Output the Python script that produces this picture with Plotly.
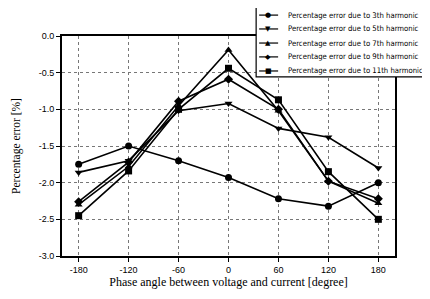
import plotly.graph_objects as go

phase = [-180, -120, -60, 0, 60, 120, 180]
h3 = [-1.75, -1.50, -1.70, -1.93, -2.22, -2.32, -2.00]
h5 = [-1.86, -1.70, -1.02, -0.92, -1.26, -1.38, -1.80]
h7 = [-2.30, -1.78, -0.95, -0.19, -1.02, -1.98, -2.28]
h9 = [-2.26, -1.72, -0.89, -0.59, -1.00, -1.98, -2.22]
h11 = [-2.45, -1.84, -1.00, -0.44, -0.87, -1.85, -2.50]

names = ["Percentage error due to 3th harmonic",
         "Percentage error due to 5th harmonic",
         "Percentage error due to 7th harmonic",
         "Percentage error due to 9th harmonic",
         "Percentage error due to 11th harmonic"]
symbols = ["circle", "triangle-down", "triangle-up", "diamond", "square"]
glyphs = ["●", "▼", "▲", "◆", "■"]
series = [h3, h5, h7, h9, h11]

x_ticks = [-180, -120, -60, 0, 60, 120, 180]
y_ticks = [0.0, -0.5, -1.0, -1.5, -2.0, -2.5, -3.0]

fig = go.Figure()
for nm, sym, ys in zip(names, symbols, series):
    fig.add_trace(go.Scatter(
        x=phase, y=ys, name=nm, mode="lines+markers",
        line=dict(color="black", width=1.6),
        marker=dict(symbol=sym, size=7, color="black"),
        showlegend=False,
    ))

# ---- hand-drawn legend (paper coordinates) ----
box_l, box_r, box_t, box_b = 0.583, 1.097, 1.155, 0.814
row_y = [1.095, 1.032, 0.968, 0.905, 0.841]
line_x0, line_x1, mark_x, text_x = 0.592, 0.649, 0.619, 0.672

fig.add_shape(type="rect", xref="paper", yref="paper",
              x0=box_l, x1=box_r, y0=box_b, y1=box_t,
              line=dict(color="black", width=1.2), fillcolor="white",
              layer="above")
for nm, g, yy in zip(names, glyphs, row_y):
    fig.add_shape(type="line", xref="paper", yref="paper",
                  x0=line_x0, x1=line_x1, y0=yy, y1=yy,
                  line=dict(color="black", width=1.2), layer="above")
    fig.add_annotation(x=mark_x, y=yy, xref="paper", yref="paper",
                       text=g, showarrow=False, xanchor="center",
                       yanchor="middle",
                       font=dict(family="DejaVu Sans", size=7,
                                 color="black"))
    fig.add_annotation(x=text_x, y=yy, xref="paper", yref="paper",
                       text=nm, showarrow=False, xanchor="left",
                       yanchor="middle",
                       font=dict(family="DejaVu Sans Condensed", size=7.7,
                                 color="black"))

fig.update_layout(
    width=430, height=299,
    margin=dict(l=54, r=43, t=28, b=51),
    paper_bgcolor="white", plot_bgcolor="white",
    font=dict(family="Liberation Serif", color="black"),
    showlegend=False,
    xaxis=dict(
        range=[-200, 200], tickvals=x_ticks,
        ticktext=[str(v) for v in x_ticks],
        showline=True, linecolor="black", linewidth=2, mirror=True,
        ticks="outside", ticklen=4, tickcolor="black",
        showgrid=True, gridcolor="#777", griddash="dot", gridwidth=1,
        zeroline=False, automargin=False,
        tickfont=dict(family="Liberation Sans", size=9),
        title=dict(text="Phase angle between voltage and current [degree]",
                   font=dict(family="Liberation Serif", size=12), standoff=3),
    ),
    yaxis=dict(
        range=[-3.0, 0.0], tickvals=y_ticks,
        ticktext=["%.1f" % v for v in y_ticks],
        showline=True, linecolor="black", linewidth=2, mirror=True,
        ticks="outside", ticklen=4, tickcolor="black",
        showgrid=True, gridcolor="#777", griddash="dot", gridwidth=1,
        zeroline=False, automargin=False,
        tickfont=dict(family="Liberation Sans", size=9),
        title=dict(text="Percentage error [%]",
                   font=dict(family="Liberation Serif", size=11.5),
                   standoff=16),
    ),
)

fig.write_html("out.html")
